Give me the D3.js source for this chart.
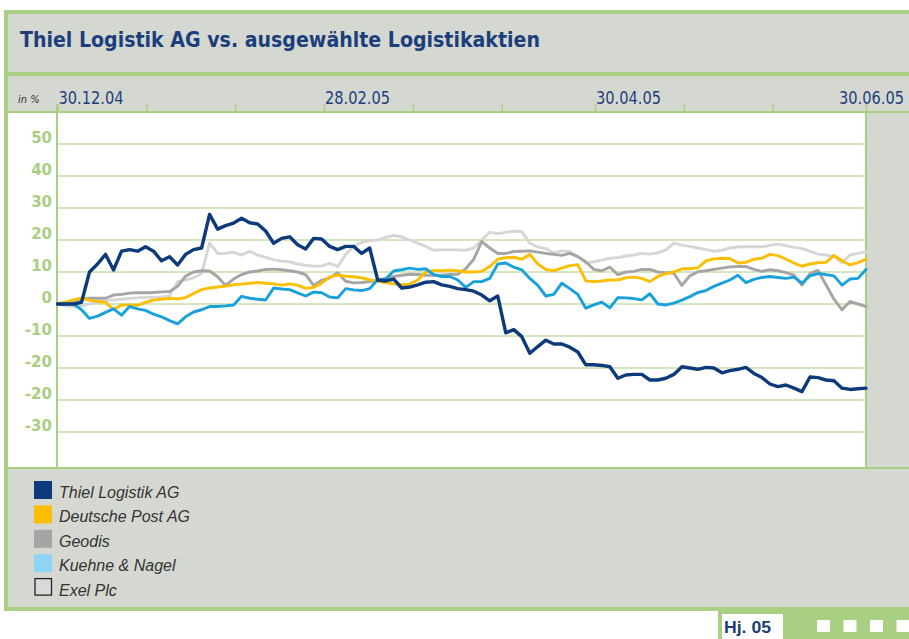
<!DOCTYPE html>
<html>
<head>
<meta charset="utf-8">
<script src="https://cdn.jsdelivr.net/npm/d3@7"></script>
<style>
  body { margin: 0; background: #fff; }
  svg { display: block; }
</style>
</head>
<body>
<svg id="chart" width="909" height="639"></svg>
<script>
// ---- data (% change since 30.12.04) ----
const title = 'Thiel Logistik AG vs. ausgewählte Logistikaktien'
const unitLabel = 'in %'
const periodLabel = 'Hj. 05'

const startDate = '30.12.04'
const endDate = '30.06.05'
const tickDates = ['30.12.04', '19.01.05', '08.02.05', '28.02.05', '20.03.05', '09.04.05', '30.04.05', '20.05.05', '09.06.05', '30.06.05']
const labelledDates = ['30.12.04', '28.02.05', '30.04.05', '30.06.05']

const yTickValues = [50, 40, 30, 20, 10, 0, -10, -20, -30, -40]
const yTickLabels = ['50', '40', '30', '20', '10', '0', '-10', '-20', '-20', '-30']

const seriesNames = ['Thiel Logistik AG', 'Deutsche Post AG', 'Geodis', 'Kuehne & Nagel', 'Exel Plc']

const thiel = [0, 0, 0, 0.5, 10, 12.5, 15.5, 10.6, 16.5, 17,
  16.5, 17.9, 16.5, 13.5, 14.8, 12.2, 15.5, 17, 17.5, 28,
  23.4, 24.5, 25.3, 26.8, 25.4, 25, 22.8, 19, 20.5, 21,
  18.5, 17.2, 20.5, 20.3, 18, 17, 18, 18, 15.8, 17.5,
  7.5, 7.2, 7.8, 5, 5.3, 6, 6.8, 7, 6, 5.5,
  4.8, 4.5, 4, 2.8, 1, 2.5, -9, -8, -10.2, -15.4,
  -13.3, -11.3, -12.5, -12.5, -13.5, -15, -19, -19, -19.2, -19.6,
  -23.2, -22.2, -22, -22, -23.75, -23.75, -23.2, -22, -19.6, -20,
  -20.4, -19.8, -20, -21.5, -20.8, -20.4, -19.8, -21.7, -23, -25,
  -25.8, -25.3, -26.3, -27.4, -22.8, -23, -23.75, -24, -26.3, -26.7,
  -26.5, -26.3]

const deutschePost = [0, 0.6, 1.3, 1.8, 1.2, 0.8, 0.5, -1.8, -0.3, -0.3,
  -0.4, 0.5, 1.25, 1.5, 1.8, 1.6, 2, 3.3, 4.5, 5,
  5.3, 5.6, 6, 6.2, 6.5, 6.7, 6.5, 6.3, 5.9, 6.3,
  5.9, 4.9, 5.2, 6.5, 8.5, 9, 8.7, 8.5, 8.2, 7.5,
  7.2, 6.7, 6.3, 6, 6.2, 7.5, 10, 10.5, 10.4, 10.6,
  10.4, 10, 10, 10.2, 11.7, 14, 14.5, 14.6, 14, 15.5,
  12.5, 10.8, 10.4, 11.2, 12, 12.3, 7.2, 7, 7.2, 7.5,
  7.5, 8.2, 8.4, 8, 7, 8.6, 9.5, 10, 11, 11,
  11.3, 13.5, 14.1, 14.3, 14.2, 12.8, 13, 14, 14.3, 15.5,
  15.1, 14, 12.8, 11.8, 12.5, 12.9, 13, 15.2, 13.5, 12.2,
  12.9, 14]

const geodis = [0, 0.3, 0.8, 1.6, 1.8, 1.8, 1.8, 2.8, 3, 3.4,
  3.5, 3.5, 3.6, 3.8, 3.9, 5.5, 8.7, 10, 10.4, 10.3,
  8.5, 5.8, 7.8, 9.2, 10, 10.3, 10.8, 10.9, 10.7, 10.4,
  10, 9.2, 5.8, 7.4, 8.2, 9.8, 7.1, 6.6, 6.7, 7,
  7.2, 8, 8.6, 9, 9.3, 9.2, 9, 9, 9, 9.2,
  9.3, 11, 14, 19.5, 17.5, 15.8, 15.8, 16.4, 16.5, 16.6,
  16.2, 15.8, 15.5, 15.2, 15.8, 14.8, 13.2, 10.8, 10.4, 11.5,
  9.2, 10, 10.2, 10.8, 10.8, 10, 9.8, 9.6, 5.8, 8.8,
  10.1, 10.4, 10.8, 11.2, 11.6, 11.7, 11.7, 10.8, 10.2, 10.7,
  10.4, 9.8, 9, 5.9, 9.5, 10.5, 6, 1.5, -1.8, 0.8,
  0, -0.8]

const kuehneNagel = [0, 0, 0, -1.8, -4.5, -3.8, -2.6, -1.5, -3.5, -0.8,
  -1.5, -2, -3.2, -4, -5.2, -6.2, -4, -2.5, -1.8, -0.8,
  -0.8, -0.6, -0.3, 2.4, 1.8, 1.5, 1.25, 5, 4.7, 4.5,
  3.5, 2.5, 3.7, 3.5, 2.2, 1.9, 4.8, 4.4, 4.2, 4.8,
  7.6, 7.8, 10.3, 10.7, 11.2, 10.8, 11, 9.2, 8.6, 8.6,
  7.5, 5.2, 7, 7, 8, 12.5, 12.8, 11.5, 10.7, 8,
  5.8, 2.5, 3, 6.5, 4.8, 3, -1.3, -0.3, 0.6, -1.2,
  2, 1.9, 1.7, 1.3, 3.2, 0, -0.3, 0.3, 1.2, 2.3,
  3.6, 4.2, 5.5, 6.5, 7.5, 9, 6.7, 7.7, 8.3, 8.6,
  8.3, 8, 8.4, 6.5, 8.8, 9.5, 9.2, 8.8, 5.9, 7.8,
  8, 10.8]

const exel = [0, -0.6, -0.8, -0.6, 0, 0.5, 1, 1.3, 1.5, 1.7,
  1.9, 2.1, 2.1, 2.2, 2.6, 7, 7.5, 8.2, 9.5, 19,
  15.8, 15.8, 16.2, 15.3, 16.5, 15.3, 14.6, 13.8, 13.4, 13.2,
  12.5, 12.1, 11.8, 11.9, 12.7, 11.7, 15.5, 18, 19.3, 19.8,
  20, 20.8, 21.4, 21, 20, 19, 18, 16.8, 16.9, 16.9,
  16.9, 16.8, 17.5, 20, 22.4, 22, 22.4, 22.8, 22.6, 19,
  17.8, 17.3, 16, 16.6, 16.4, 14.8, 12.8, 13.2, 13.7, 14.3,
  14.5, 15, 15.3, 15.8, 15.6, 16, 16.9, 19, 18.4, 18,
  17.5, 17, 16.5, 16.8, 17.5, 17.8, 17.9, 17.9, 17.9, 18.3,
  18.7, 18.2, 17.7, 17.3, 16.5, 15.6, 15.3, 14.9, 12.9, 15.3,
  15.8, 16.4]

// ---- styles ----
const green = '#a8cf82'
const band = '#d5d8d0'
const navy = '#1c3f7c'
const lineColors = {
  'Thiel Logistik AG': '#0d3a7a',
  'Deutsche Post AG': '#fbbf00',
  'Geodis': '#a5a5a5',
  'Kuehne & Nagel': '#19a1dc',
  'Exel Plc': '#d6d6d6',
}
const swatchColors = {
  'Thiel Logistik AG': '#0d3a7a',
  'Deutsche Post AG': '#fbbf00',
  'Geodis': '#a5a5a5',
  'Kuehne & Nagel': '#8fd4f5',
  'Exel Plc': '#d9d9d9',
}
const condensed = "'Liberation Sans Narrow', 'DejaVu Sans Condensed', 'Roboto', sans-serif"

const svg = d3.select('#chart')
const width = 909
const height = 639

const parse = d3.timeParse('%d.%m.%y')

// frame
svg.append('rect').attr('width', width).attr('height', height).attr('fill', '#fff')
svg.append('rect').attr('x', 4).attr('y', 10).attr('width', width - 4).attr('height', 601).attr('fill', green)
svg.append('rect').attr('x', 8).attr('y', 14).attr('width', width - 8).attr('height', 58).attr('fill', band) // title band
svg.append('rect').attr('x', 8).attr('y', 76).attr('width', width - 8).attr('height', 35).attr('fill', band) // axis band
svg.append('rect').attr('x', 8).attr('y', 113).attr('width', width - 8).attr('height', 354).attr('fill', '#fff') // plot band
svg.append('rect').attr('x', 8).attr('y', 469).attr('width', width - 8).attr('height', 138).attr('fill', band) // legend band

// right gray panel inside plot
svg.append('rect').attr('x', 865).attr('y', 113).attr('width', 2).attr('height', 354).attr('fill', green)
svg.append('rect').attr('x', 867).attr('y', 113).attr('width', width - 867).attr('height', 354).attr('fill', band)

// title
svg.append('text')
  .attr('x', 20).attr('y', 47)
  .attr('font-family', condensed).attr('font-weight', 'bold').attr('font-size', 21)
  .attr('fill', navy)
  .attr('textLength', 520).attr('lengthAdjust', 'spacingAndGlyphs')
  .text(title)

// scales
const x = d3.scaleTime().domain([parse(startDate), parse(endDate)]).range([57.5, 866])
const y = d3.scaleLinear().domain([0, 10]).range([304, 272])
const n = thiel.length
const dateAt = d3.scaleLinear().domain([0, n - 1]).range([parse(startDate), parse(endDate)])

// top axis ticks
const axis = svg.append('g')
  .attr('transform', 'translate(0,112)')
  .call(d3.axisTop(x).tickValues(tickDates.map(parse)).tickSize(8).tickFormat(''))
axis.select('.domain').remove()
axis.selectAll('.tick line').attr('stroke', green).attr('stroke-width', 1.5)

svg.append('text')
  .attr('x', 18).attr('y', 103)
  .attr('font-family', condensed).attr('font-style', 'italic').attr('font-size', 11)
  .attr('fill', '#333')
  .text(unitLabel)

svg.append('g')
  .selectAll('text')
  .data(labelledDates)
  .join('text')
  .attr('x', (d, i) => (i === labelledDates.length - 1 ? 904 : x(parse(d)) + 1))
  .attr('y', 104)
  .attr('text-anchor', (d, i) => (i === labelledDates.length - 1 ? 'end' : 'start'))
  .attr('font-family', condensed).attr('font-size', 17)
  .attr('fill', navy)
  .attr('textLength', 65).attr('lengthAdjust', 'spacingAndGlyphs')
  .text(d => d)

// separator between y labels and plot
svg.append('rect').attr('x', 56).attr('y', 104).attr('width', 2).attr('height', 364).attr('fill', green)

// gridlines + y labels
svg.append('g')
  .selectAll('line')
  .data(yTickValues)
  .join('line')
  .attr('x1', 58).attr('x2', 865)
  .attr('y1', d => y(d)).attr('y2', d => y(d))
  .attr('stroke', green).attr('stroke-width', 1.2)

svg.append('g')
  .selectAll('text')
  .data(yTickValues)
  .join('text')
  .attr('x', 52)
  .attr('y', d => y(d) - 1)
  .attr('text-anchor', 'end')
  .attr('font-family', "'DejaVu Sans', sans-serif").attr('font-weight', 'bold').attr('font-size', 15)
  .attr('fill', green)
  .text((d, i) => yTickLabels[i])

// lines
const seriesData = {
  'Thiel Logistik AG': thiel,
  'Deutsche Post AG': deutschePost,
  'Geodis': geodis,
  'Kuehne & Nagel': kuehneNagel,
  'Exel Plc': exel,
}
const drawOrder = ['Exel Plc', 'Geodis', 'Deutsche Post AG', 'Kuehne & Nagel', 'Thiel Logistik AG']

const line = d3.line()
  .x((d, i) => x(dateAt(i)))
  .y(d => y(d))

svg.append('g')
  .attr('id', 'lines')
  .selectAll('path')
  .data(drawOrder)
  .join('path')
  .attr('d', name => line(seriesData[name]))
  .attr('fill', 'none')
  .attr('stroke', name => lineColors[name])
  .attr('stroke-width', name => (name === 'Thiel Logistik AG' ? 3.4 : 2.9))
  .attr('stroke-linejoin', 'round')
  .attr('stroke-linecap', 'round')

// legend
const legend = svg.append('g')
  .attr('id', 'legend')
  .selectAll('g')
  .data(seriesNames)
  .join('g')
  .attr('transform', (d, i) => `translate(34,${481 + i * 24.4})`)

legend.append('rect')
  .attr('x', d => (d === 'Exel Plc' ? 1 : 0))
  .attr('y', 0)
  .attr('width', d => (d === 'Exel Plc' ? 16.5 : 18))
  .attr('height', d => (d === 'Exel Plc' ? 16.5 : 18))
  .attr('fill', d => swatchColors[d])
  .attr('stroke', d => (d === 'Exel Plc' ? '#222' : 'none'))
  .attr('stroke-width', 1.3)

legend.append('text')
  .attr('x', 25)
  .attr('y', 17)
  .attr('font-family', "'Liberation Sans', Arial, sans-serif").attr('font-style', 'italic').attr('font-size', 16)
  .attr('fill', '#333')
  .text(d => d)

// footer tab
svg.append('rect').attr('x', 718).attr('y', 611).attr('width', width - 718).attr('height', height - 611).attr('fill', green)
svg.append('rect').attr('x', 722).attr('y', 614).attr('width', 61).attr('height', height - 614).attr('fill', '#fff')
svg.append('text')
  .attr('x', 724).attr('y', 633)
  .attr('font-family', "'Liberation Sans', Arial, sans-serif").attr('font-weight', 'bold').attr('font-size', 17)
  .attr('fill', navy)
  .attr('textLength', 47).attr('lengthAdjust', 'spacingAndGlyphs')
  .text(periodLabel)

svg.append('g')
  .selectAll('rect')
  .data([817, 843.5, 870, 896.5])
  .join('rect')
  .attr('x', d => d).attr('y', 620)
  .attr('width', 13).attr('height', 12)
  .attr('fill', '#fff')
</script>
</body>
</html>
